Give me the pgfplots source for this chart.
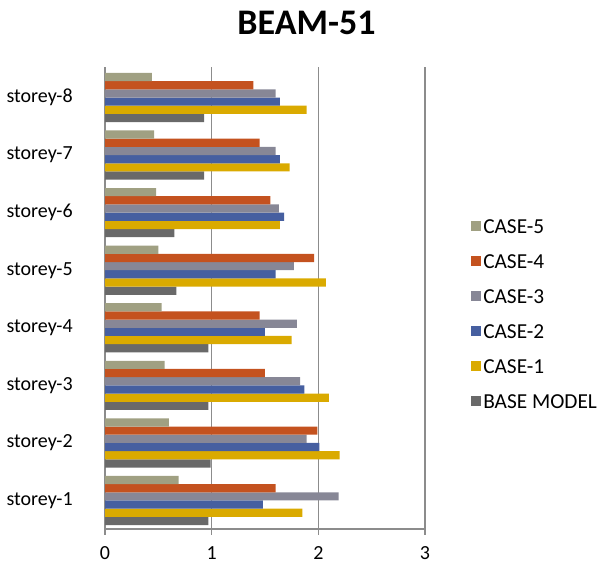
\documentclass[border=0pt]{standalone}
\usepackage{fontspec}
\setmainfont{Carlito}
\usepackage{pgfplots}
\pgfplotsset{compat=1.18}

\definecolor{case5}{HTML}{A0A082}
\definecolor{case4}{HTML}{C4521F}
\definecolor{case3}{HTML}{878796}
\definecolor{case2}{HTML}{465FA0}
\definecolor{case1}{HTML}{DAAA00}
\definecolor{basemodel}{HTML}{696969}
\definecolor{axisgray}{HTML}{8C8C8C}

\begin{document}
\begin{tikzpicture}[x=0.75pt,y=0.75pt]
\useasboundingbox (0,0) rectangle (600,564);
\node[font=\fontsize{27}{30}\selectfont\bfseries] at (306.5,541) {BEAM-51};
\begin{axis}[
  at={(78.75pt,26.25pt)}, anchor=south west,
  scale only axis, width=240pt, height=346.5pt,
  xmin=0, xmax=3, ymin=0.505, ymax=8.53,
  axis lines=left,
  axis line style={-, draw=axisgray, line width=0.8pt},
  xtick={0,1,2,3},
  xmajorgrids,
  grid style={draw=axisgray, line width=0.8pt},
  xtick align=outside,
  x tick style={draw=axisgray, line width=0.8pt},
  major tick length=4.5pt,
  ytick={1,...,8},
  yticklabels={storey-1,storey-2,storey-3,storey-4,storey-5,storey-6,storey-7,storey-8},
  y tick style={draw=none},
  yticklabel style={xshift=-18.5pt},
  xticklabel style={yshift=-5pt},
  ticklabel style={font=\fontsize{15}{18}\selectfont},
  /pgf/number format/assume math mode=true,
  clip=false,
  reverse legend,
  legend cell align=left,
  legend image code/.code={\fill[#1] (0pt,-3.75pt) rectangle (7.5pt,3.75pt);},
  legend style={at={(1,0.466)}, anchor=west, xshift=34.5pt, draw=none, fill=none,
    inner sep=0pt, row sep=12.3pt,
    font=\fontsize{16}{19}\selectfont,
    nodes={inner sep=1.5pt, text height=11pt, text depth=0pt}},
  every axis plot/.append style={xbar, bar width=0.1424, draw=none},
]
% BASE MODEL
\addplot[fill=basemodel, bar shift=-0.356] coordinates {
  (0.97,1) (0.99,2) (0.97,3) (0.97,4) (0.67,5) (0.65,6) (0.93,7) (0.93,8)};
% CASE-1
\addplot[fill=case1, bar shift=-0.2136] coordinates {
  (1.85,1) (2.20,2) (2.10,3) (1.75,4) (2.07,5) (1.64,6) (1.73,7) (1.89,8)};
% CASE-2
\addplot[fill=case2, bar shift=-0.0712] coordinates {
  (1.48,1) (2.01,2) (1.87,3) (1.50,4) (1.60,5) (1.68,6) (1.64,7) (1.64,8)};
% CASE-3
\addplot[fill=case3, bar shift=0.0712] coordinates {
  (2.19,1) (1.89,2) (1.83,3) (1.80,4) (1.77,5) (1.63,6) (1.60,7) (1.60,8)};
% CASE-4
\addplot[fill=case4, bar shift=0.2136] coordinates {
  (1.60,1) (1.99,2) (1.50,3) (1.45,4) (1.96,5) (1.55,6) (1.45,7) (1.39,8)};
% CASE-5
\addplot[fill=case5, bar shift=0.356] coordinates {
  (0.69,1) (0.60,2) (0.56,3) (0.53,4) (0.50,5) (0.48,6) (0.46,7) (0.44,8)};
\legend{BASE MODEL,CASE-1,CASE-2,CASE-3,CASE-4,CASE-5}
\end{axis}
\end{tikzpicture}
\end{document}
